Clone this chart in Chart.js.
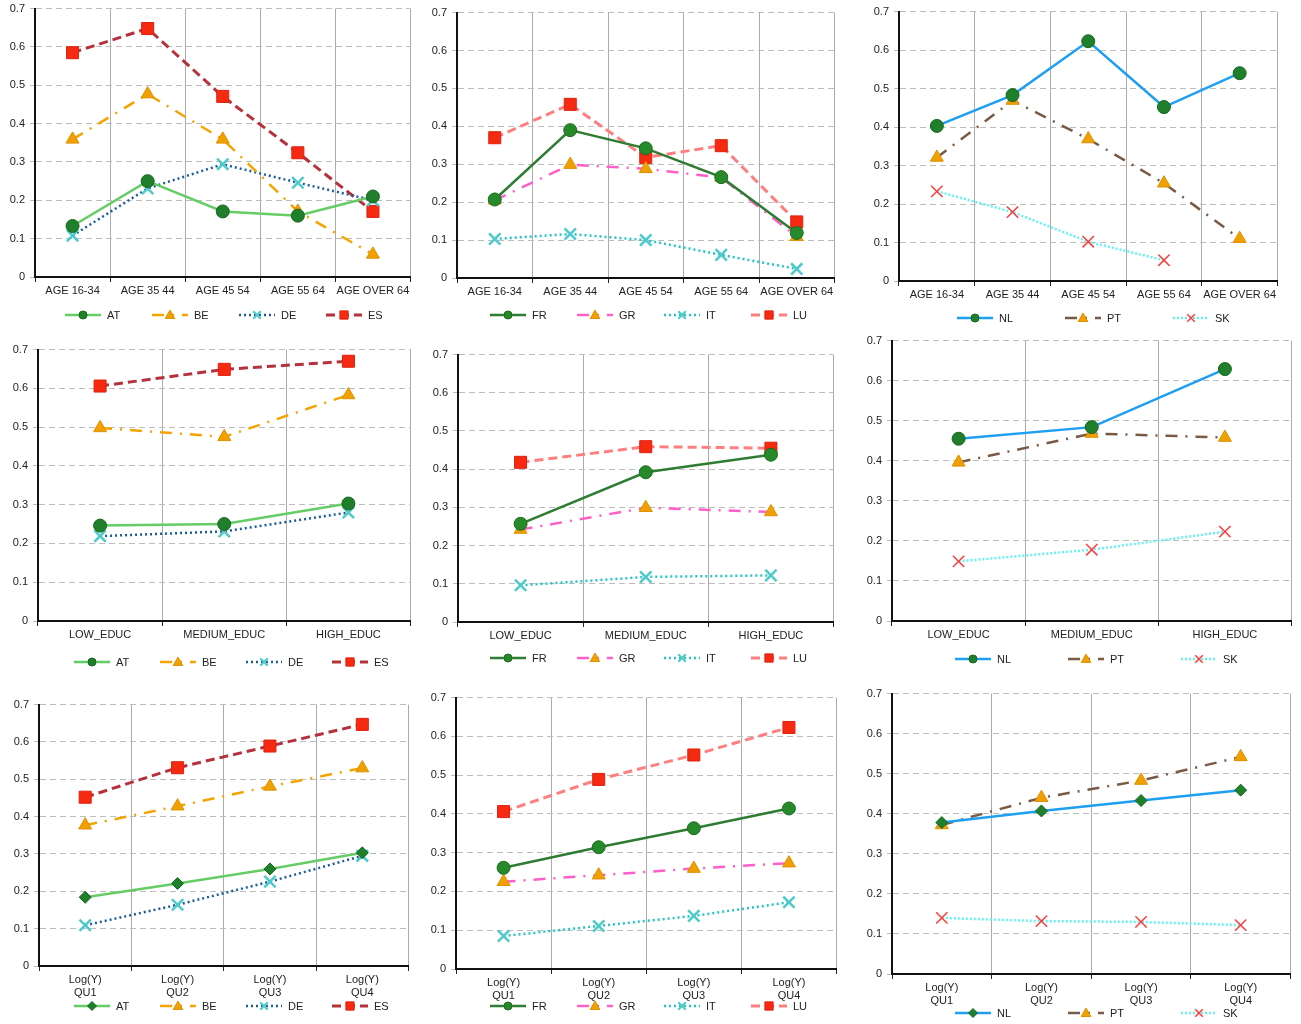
<!DOCTYPE html>
<html>
<head>
<meta charset="utf-8">
<script src="https://cdn.jsdelivr.net/npm/chart.js@4.4.0/dist/chart.umd.min.js"></script>
<style>
html, body { margin: 0; padding: 0; background: #fff; }
#page { position: relative; width: 1301px; height: 1024px; overflow: hidden; background: #fff; }
#page canvas { position: absolute; }
</style>
</head>
<body>
<div id="page"></div>
<script>
// ---------- categories ----------
const AGE_LABELS = ["AGE 16-34", "AGE 35 44", "AGE 45 54", "AGE 55 64", "AGE OVER 64"];
const EDUC_LABELS = ["LOW_EDUC", "MEDIUM_EDUC", "HIGH_EDUC"];
const QU_LABELS = [["Log(Y)", "QU1"], ["Log(Y)", "QU2"], ["Log(Y)", "QU3"], ["Log(Y)", "QU4"]];
const Y_TICKS = [0, 0.1, 0.2, 0.3, 0.4, 0.5, 0.6, 0.7];

// ---------- by age ----------
const AT_AGE = [0.133, 0.250, 0.171, 0.160, 0.210];
const BE_AGE = [0.359, 0.477, 0.359, 0.171, 0.059];
const DE_AGE = [0.108, 0.231, 0.294, 0.246, 0.200];
const ES_AGE = [0.585, 0.648, 0.471, 0.324, 0.171];
const FR_AGE = [0.207, 0.390, 0.342, 0.266, 0.119];
const GR_AGE = [0.205, 0.299, 0.288, 0.265, 0.109];
const IT_AGE = [0.103, 0.116, 0.100, 0.061, 0.024];
const LU_AGE = [0.370, 0.458, 0.318, 0.349, 0.148];
const NL_AGE = [0.403, 0.483, 0.623, 0.452, 0.540];
const PT_AGE = [0.321, 0.469, 0.369, 0.254, 0.110];
const SK_AGE = [0.233, 0.179, 0.102, 0.054, null];

// ---------- by education ----------
const AT_EDUC = [0.246, 0.250, 0.303];
const BE_EDUC = [0.498, 0.475, 0.583];
const DE_EDUC = [0.219, 0.231, 0.280];
const ES_EDUC = [0.606, 0.649, 0.670];
const FR_EDUC = [0.257, 0.392, 0.438];
const GR_EDUC = [0.242, 0.299, 0.288];
const IT_EDUC = [0.096, 0.118, 0.122];
const LU_EDUC = [0.418, 0.459, 0.455];
const NL_EDUC = [0.455, 0.484, 0.629];
const PT_EDUC = [0.396, 0.468, 0.458];
const SK_EDUC = [0.149, 0.178, 0.223];

// ---------- by income quartile ----------
const AT_QU = [0.184, 0.221, 0.260, 0.303];
const BE_QU = [0.377, 0.428, 0.481, 0.530];
const DE_QU = [0.109, 0.164, 0.226, 0.295];
const ES_QU = [0.452, 0.531, 0.589, 0.647];
const FR_QU = [0.261, 0.314, 0.363, 0.414];
const GR_QU = [0.225, 0.242, 0.259, 0.273];
const IT_QU = [0.085, 0.111, 0.137, 0.172];
const LU_QU = [0.406, 0.489, 0.552, 0.623];
const NL_QU = [0.378, 0.407, 0.433, 0.459];
const PT_QU = [0.372, 0.440, 0.483, 0.542];
const SK_QU = [0.140, 0.132, 0.130, 0.122];

// ---------- series look ----------
const STYLE = {
    AT: { line: "#66cc66", width: 2.5, dash: [], marker: "circle", fill: "#1f7f2a", edge: "#17661f", edgeWidth: 1 },
    BE: { line: "#f5a300", width: 2.5, dash: [12, 8, 2, 8], marker: "triangle", fill: "#f0a000", edge: "#e09000", edgeWidth: 1 },
    DE: { line: "#1c5c9c", width: 2.5, dash: [2, 3], marker: "crossRot", fill: "#4fcaca", edge: "#4fcaca", edgeWidth: 2.5 },
    ES: { line: "#b5323c", width: 3, dash: [9, 5], marker: "rect", fill: "#f52a10", edge: "#e02010", edgeWidth: 1 },
    FR: { line: "#2e7d32", width: 2.5, dash: [], marker: "circle", fill: "#268a2a", edge: "#1c6b20", edgeWidth: 1 },
    GR: { line: "#ff5fc8", width: 2.5, dash: [12, 8, 2, 8], marker: "triangle", fill: "#f0a000", edge: "#e09000", edgeWidth: 1 },
    IT: { line: "#22c4c4", width: 2.5, dash: [2, 3], marker: "crossRot", fill: "#4fcaca", edge: "#4fcaca", edgeWidth: 2.5 },
    LU: { line: "#ff7f7f", width: 3, dash: [9, 5], marker: "rect", fill: "#f52a10", edge: "#e02010", edgeWidth: 1 },
    NL: { line: "#1e9ff2", width: 2.5, dash: [], marker: "circle", fill: "#1f7f2a", edge: "#17661f", edgeWidth: 1 },
    PT: { line: "#7a5a44", width: 2.5, dash: [12, 8, 2, 8], marker: "triangle", fill: "#f0a000", edge: "#e09000", edgeWidth: 1 },
    SK: { line: "#66f2f2", width: 2.5, dash: [2, 2], marker: "crossRot", fill: "#ff3b3b", edge: "#ff3b3b", edgeWidth: 1.5 }
};
const RADIUS = { circle: 6.5, triangle: 7.5, crossRot: 8, rect: 8.5, rectRot: 6 };
const LEGEND_RADIUS = { circle: 4, triangle: 5, crossRot: 5, rect: 5.5, rectRot: 4.5 };

// plot rectangle, legend row
const PANELS = [
    { x0: 35, y0: 7, x1: 410, y1: 277, legendY: 315, legendX: 65, step: 87, labels: AGE_LABELS,
      series: [["AT", AT_AGE], ["BE", BE_AGE], ["DE", DE_AGE], ["ES", ES_AGE]] },
    { x0: 457, y0: 11, x1: 834, y1: 278, legendY: 315, legendX: 490, step: 87, labels: AGE_LABELS,
      series: [["FR", FR_AGE], ["GR", GR_AGE], ["IT", IT_AGE], ["LU", LU_AGE]] },
    { x0: 899, y0: 10, x1: 1276, y1: 281, legendY: 318, legendX: 957, step: 108, labels: AGE_LABELS,
      series: [["NL", NL_AGE], ["PT", PT_AGE], ["SK", SK_AGE]] },
    { x0: 38, y0: 348, x1: 410, y1: 621, legendY: 662, legendX: 74, step: 86, labels: EDUC_LABELS,
      series: [["AT", AT_EDUC], ["BE", BE_EDUC], ["DE", DE_EDUC], ["ES", ES_EDUC]] },
    { x0: 458, y0: 353, x1: 833, y1: 622, legendY: 658, legendX: 490, step: 87, labels: EDUC_LABELS,
      series: [["FR", FR_EDUC], ["GR", GR_EDUC], ["IT", IT_EDUC], ["LU", LU_EDUC]] },
    { x0: 892, y0: 339, x1: 1290, y1: 621, legendY: 659, legendX: 955, step: 113, labels: EDUC_LABELS,
      series: [["NL", NL_EDUC], ["PT", PT_EDUC], ["SK", SK_EDUC]] },
    { x0: 39, y0: 703, x1: 408, y1: 966, legendY: 1006, legendX: 74, step: 86, labels: QU_LABELS, diamonds: true,
      series: [["AT", AT_QU], ["BE", BE_QU], ["DE", DE_QU], ["ES", ES_QU]] },
    { x0: 456, y0: 696, x1: 836, y1: 969, legendY: 1006, legendX: 490, step: 87, labels: QU_LABELS,
      series: [["FR", FR_QU], ["GR", GR_QU], ["IT", IT_QU], ["LU", LU_QU]] },
    { x0: 892, y0: 692, x1: 1289, y1: 974, legendY: 1013, legendX: 955, step: 113, labels: QU_LABELS, diamonds: true,
      series: [["NL", NL_QU], ["PT", PT_QU], ["SK", SK_QU]] }
];

const FONT = '"Liberation Sans", Arial, Helvetica, sans-serif';
Chart.defaults.font.family = FONT;
Chart.defaults.font.size = 11;
Chart.defaults.color = "#222";

// small marker painter for the legend rows
function drawMarker(ctx, style, x, y, r, fill, edge, edgeWidth) {
    ctx.save();
    ctx.fillStyle = fill;
    ctx.strokeStyle = edge;
    ctx.lineWidth = edgeWidth;
    ctx.setLineDash([]);
    ctx.beginPath();
    if (style === "circle") {
        ctx.arc(x, y, r, 0, Math.PI * 2);
        ctx.fill(); ctx.stroke();
    } else if (style === "triangle") {
        ctx.moveTo(x, y - r);
        ctx.lineTo(x + r * 0.95, y + r * 0.7);
        ctx.lineTo(x - r * 0.95, y + r * 0.7);
        ctx.closePath();
        ctx.fill(); ctx.stroke();
    } else if (style === "rect") {
        const s = r * 0.75;
        ctx.rect(x - s, y - s, 2 * s, 2 * s);
        ctx.fill(); ctx.stroke();
    } else if (style === "rectRot") {
        ctx.moveTo(x, y - r); ctx.lineTo(x + r, y); ctx.lineTo(x, y + r); ctx.lineTo(x - r, y);
        ctx.closePath();
        ctx.fill(); ctx.stroke();
    } else if (style === "crossRot") {
        const s = r * 0.75;
        ctx.strokeStyle = edge;
        ctx.lineWidth = Math.max(1.5, edgeWidth - 0.5);
        ctx.moveTo(x - s, y - s); ctx.lineTo(x + s, y + s);
        ctx.moveTo(x + s, y - s); ctx.lineTo(x - s, y + s);
        ctx.stroke();
    }
    ctx.restore();
}

const lineLegend = {
    id: "lineLegend",
    afterDraw(chart, args, opts) {
        const ctx = chart.ctx;
        chart.data.datasets.forEach((ds, i) => {
            const x = opts.x + i * opts.step;
            const y = opts.y;
            ctx.save();
            ctx.strokeStyle = ds.borderColor;
            ctx.lineWidth = ds.borderWidth;
            ctx.setLineDash(ds.borderDash || []);
            ctx.beginPath();
            ctx.moveTo(x, y);
            ctx.lineTo(x + 36, y);
            ctx.stroke();
            ctx.restore();
            drawMarker(ctx, ds.pointStyle, x + 18, y, LEGEND_RADIUS[ds.pointStyle],
                ds.pointBackgroundColor, ds.pointBorderColor, ds.pointBorderWidth);
            ctx.save();
            ctx.fillStyle = "#222";
            ctx.font = "11px " + FONT;
            ctx.textBaseline = "middle";
            ctx.fillText(ds.label, x + 42, y + 1);
            ctx.restore();
        });
    }
};

const page = document.getElementById("page");

function makePanel(p) {
    // the layout eats ~2px on top and ~3px on the right, so give it back
    const left = p.x0 - 38;
    const top = p.y0 - 10;
    const width = p.x1 - left + 11;
    const height = p.legendY + 11 - top;
    const xAxisH = height - (p.y1 - top);

    const canvas = document.createElement("canvas");
    canvas.width = width;
    canvas.height = height;
    canvas.style.left = left + "px";
    canvas.style.top = top + "px";
    canvas.style.width = width + "px";
    canvas.style.height = height + "px";
    page.appendChild(canvas);

    const datasets = p.series.map(([code, values]) => {
        const s = STYLE[code];
        const marker = (p.diamonds && s.marker === "circle") ? "rectRot" : s.marker;
        return {
            label: code,
            data: values,
            borderColor: s.line,
            borderWidth: s.width,
            borderDash: s.dash,
            pointStyle: marker,
            pointRadius: RADIUS[marker],
            pointBackgroundColor: s.fill,
            pointBorderColor: s.edge,
            pointBorderWidth: s.edgeWidth,
            tension: 0,
            fill: false,
            spanGaps: false
        };
    });

    new Chart(canvas, {
        type: "line",
        data: { labels: p.labels, datasets },
        options: {
            responsive: false,
            animation: false,
            devicePixelRatio: 1,
            layout: { padding: { top: 8, right: 8, left: 0, bottom: 0 } },
            events: [],
            plugins: {
                legend: { display: false },
                tooltip: { enabled: false },
                lineLegend: { x: p.legendX - left, y: p.legendY - top, step: p.step }
            },
            scales: {
                x: {
                    type: "category",
                    offset: true,
                    grid: { offset: true, color: "#ababab", lineWidth: 1, tickColor: "#222", tickLength: 5 },
                    border: { color: "#111", width: 2 },
                    ticks: { color: "#222", maxRotation: 0, minRotation: 0, autoSkip: false, padding: 2 },
                    afterFit: s => { s.height = xAxisH; }
                },
                y: {
                    min: 0,
                    max: 0.7,
                    afterBuildTicks: s => { s.ticks = Y_TICKS.map(v => ({ value: v })); },
                    grid: { color: "#bdbdbd", lineWidth: 1, tickLength: 5, tickColor: "#bdbdbd" },
                    border: { color: "#111", width: 2, dash: [6, 4] },
                    ticks: { color: "#222", padding: 5, callback: v => v === 0 ? "0" : Number(v).toFixed(1) },
                    afterFit: s => { s.width = 38; }
                }
            }
        },
        plugins: [lineLegend]
    });
}

PANELS.forEach(makePanel);
</script>
</body>
</html>
